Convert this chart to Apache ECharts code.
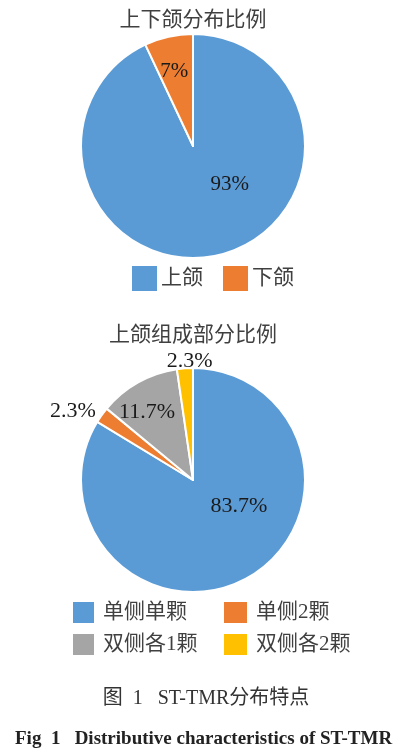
<!DOCTYPE html>
<html>
<head>
<meta charset="utf-8">
<script src="https://cdn.jsdelivr.net/npm/echarts@6/dist/echarts.min.js"></script>
<style>
html,body{margin:0;padding:0;background:#fff;}
#c{width:400px;height:755px;}
</style>
</head>
<body>
<div id="c"></div>
<script>
// Chart 1: upper vs lower jaw
const jawTitle = '上下颌分布比例';
const jawCategories = ['上颌', '下颌'];
const jawValues = [93, 7];
const jawLabels = ['93%', '7%'];

// Chart 2: composition within upper jaw
const upperTitle = '上颌组成部分比例';
const upperCategories = ['单侧单颗', '单侧2颗', '双侧各1颗', '双侧各2颗'];
const upperValues = [83.7, 2.3, 11.7, 2.3];
const upperLabels = ['83.7%', '2.3%', '11.7%', '2.3%'];

const captionCn = '图  1   ST-TMR分布特点';
const captionEn = 'Fig  1   Distributive characteristics of ST-TMR';

const colors = ['#5B9BD5', '#ED7D31', '#A5A5A5', '#FFC000'];
const FONT = '"Liberation Serif", "Noto Sans CJK SC", serif';

// label nudges relative to library-computed inside positions
const nudge1 = [[24, -19], [-6, -17]];
const nudge2 = [[17, -25], [-72, -35], [-17, -16], [1, -60]];

const chart = echarts.init(document.getElementById('c'), null, {renderer: 'canvas'});

const pieLabel = {
  show: true,
  position: 'inside',
  color: '#1a1a1a',
  fontFamily: FONT,
  fontSize: 21
};

chart.setOption({
  backgroundColor: '#fff',
  animation: false,
  title: [
    {text: jawTitle, left: 188, top: 5, textAlign: 'center',
     textStyle: {fontFamily: FONT, fontSize: 21, fontWeight: 'normal', color: '#404040'}},
    {text: upperTitle, left: 188, top: 320, textAlign: 'center',
     textStyle: {fontFamily: FONT, fontSize: 21, fontWeight: 'normal', color: '#404040'}},
    {text: captionCn, left: 201, top: 684, textAlign: 'center',
     textStyle: {fontFamily: FONT, fontSize: 20, fontWeight: 'normal', color: '#333'}},
    {text: captionEn, left: 10, top: 725,
     textStyle: {fontFamily: FONT, fontSize: 19, fontWeight: 'bold', color: '#222'}}
  ],
  legend: [
    {data: jawCategories, orient: 'horizontal', left: 130, top: 264,
     icon: 'rect', itemWidth: 27, itemHeight: 27, itemGap: 18, padding: 0,
     textStyle: {fontFamily: FONT, fontSize: 21, color: '#404040', padding: [0, 0, 0, -2]}},
    {data: [upperCategories[0], upperCategories[2]], orient: 'vertical', left: 71, top: 600,
     icon: 'rect', itemWidth: 23, itemHeight: 23, itemGap: 7, padding: 0,
     textStyle: {fontFamily: FONT, fontSize: 21, color: '#404040', padding: [0, 0, 0, 3]}},
    {data: [upperCategories[1], upperCategories[3]], orient: 'vertical', left: 222, top: 600,
     icon: 'rect', itemWidth: 25, itemHeight: 23, itemGap: 7, padding: 0,
     textStyle: {fontFamily: FONT, fontSize: 21, color: '#404040', padding: [0, 0, 0, 3]}}
  ],
  series: [
    {
      type: 'pie',
      center: [193, 146],
      radius: 112,
      startAngle: 90,
      clockwise: true,
      silent: true,
      itemStyle: {borderColor: '#fff', borderWidth: 2},
      label: Object.assign({}, pieLabel, {
        formatter: p => jawLabels[p.dataIndex]
      }),
      labelLine: {show: false},
      labelLayout: p => ({dx: nudge1[p.dataIndex][0], dy: nudge1[p.dataIndex][1]}),
      data: jawCategories.map((n, i) => ({name: n, value: jawValues[i], itemStyle: {color: colors[i]}}))
    },
    {
      type: 'pie',
      center: [193, 480],
      radius: 112,
      startAngle: 90,
      clockwise: true,
      silent: true,
      itemStyle: {borderColor: '#fff', borderWidth: 2},
      label: Object.assign({}, pieLabel, {
        fontSize: 22,
        formatter: p => upperLabels[p.dataIndex]
      }),
      labelLine: {show: false},
      labelLayout: p => ({dx: nudge2[p.dataIndex][0], dy: nudge2[p.dataIndex][1]}),
      data: upperCategories.map((n, i) => ({name: n, value: upperValues[i], itemStyle: {color: colors[i]}}))
    }
  ]
});
</script>
</body>
</html>
